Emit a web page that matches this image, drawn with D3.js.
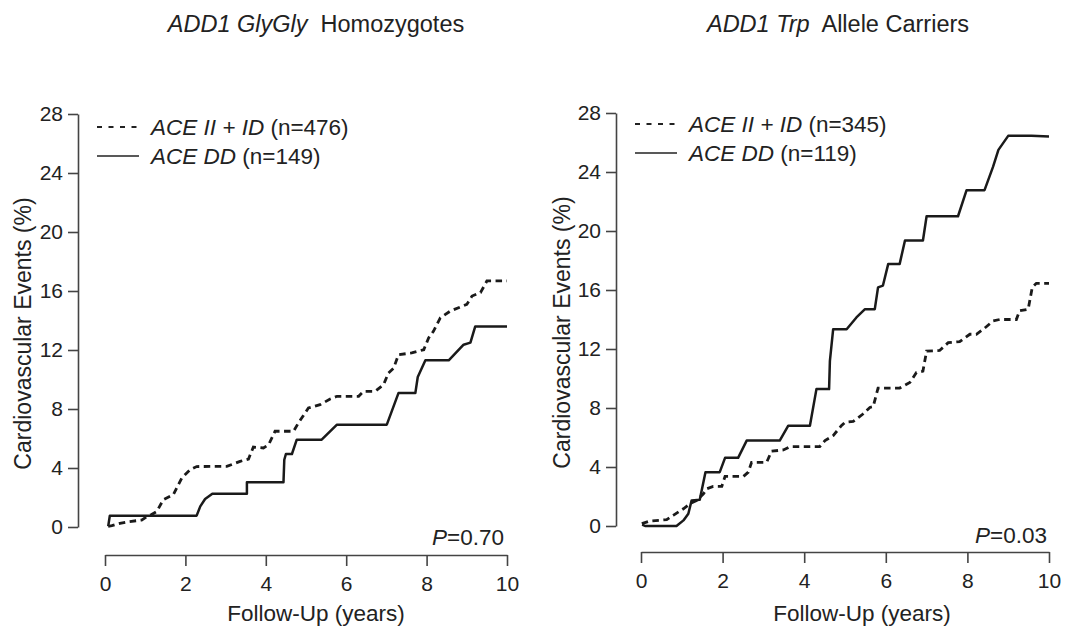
<!DOCTYPE html>
<html>
<head>
<meta charset="utf-8">
<script src="https://cdn.jsdelivr.net/npm/d3@7"></script>
<style>
  body { margin: 0; background: #fff; }
  svg { display: block; }
  text { font-family: "Liberation Sans", Arial, sans-serif; fill: #222; }
</style>
</head>
<body>
<script>
// tick labels
let xTicks = [0, 2, 4, 6, 8, 10];
let yTicks = [0, 4, 8, 12, 16, 20, 24, 28];

// ADD1 GlyGly, ACE II + ID (dashed)
let glyIIID_t = [0.08, 0.17, 0.37, 0.58, 0.91, 1.04, 1.16, 1.29, 1.45, 1.7, 1.91, 1.99, 2.12, 2.28, 3.03, 3.36, 3.57, 3.69, 3.94, 4.07, 4.23, 4.69, 4.81, 5.06, 5.35, 5.6, 5.77, 6.31, 6.43, 6.72, 6.93, 7.05, 7.18, 7.3, 7.63, 7.93, 8.05, 8.17, 8.34, 8.59, 9.0, 9.13, 9.34, 9.5, 10.0];
let glyIIID_v = [0.05, 0.09, 0.25, 0.36, 0.47, 0.7, 0.85, 1.06, 1.85, 2.19, 3.32, 3.55, 3.89, 4.1, 4.11, 4.45, 4.61, 5.42, 5.36, 5.58, 6.49, 6.49, 7.05, 8.07, 8.29, 8.68, 8.86, 8.86, 9.2, 9.2, 9.65, 10.44, 10.77, 11.68, 11.8, 12.02, 12.82, 13.27, 14.18, 14.64, 15.09, 15.66, 15.89, 16.68, 16.68];
// ADD1 GlyGly, ACE DD (solid)
let glyDD_t = [0.08, 0.12, 2.28, 2.37, 2.49, 2.67, 3.53, 3.53, 4.44, 4.46, 4.5, 4.65, 4.77, 5.39, 5.77, 7.01, 7.3, 7.72, 7.78, 7.97, 8.55, 8.92, 9.09, 9.21, 10.0];
let glyDD_v = [0.05, 0.77, 0.77, 1.4, 1.9, 2.26, 2.26, 3.03, 3.03, 4.56, 4.95, 4.95, 5.92, 5.92, 6.94, 6.94, 9.08, 9.08, 10.17, 11.3, 11.3, 12.36, 12.5, 13.6, 13.6];

// ADD1 Trp, ACE II + ID (dashed)
let trpIIID_t = [0.02, 0.22, 0.63, 0.79, 1.04, 1.2, 1.36, 1.53, 1.61, 1.77, 1.98, 2.06, 2.51, 2.63, 2.71, 3.08, 3.2, 3.49, 3.65, 4.38, 4.51, 4.71, 4.91, 5.0, 5.2, 5.44, 5.61, 5.69, 5.81, 6.34, 6.59, 6.75, 6.91, 7.0, 7.32, 7.53, 7.81, 8.06, 8.22, 8.42, 8.63, 8.79, 9.2, 9.28, 9.49, 9.59, 9.69, 10.0];
let trpIIID_v = [0.16, 0.34, 0.43, 0.72, 1.17, 1.51, 1.73, 2.18, 2.52, 2.68, 2.68, 3.36, 3.36, 3.65, 4.32, 4.32, 5.07, 5.16, 5.38, 5.38, 5.79, 6.13, 6.8, 7.03, 7.09, 7.59, 8.04, 8.09, 9.35, 9.35, 9.73, 10.4, 10.5, 11.86, 11.9, 12.43, 12.5, 13.0, 13.0, 13.41, 13.9, 14.0, 14.0, 14.59, 14.7, 16.18, 16.45, 16.45];
// ADD1 Trp, ACE DD (solid)
let trpDD_t = [0.03, 0.1, 0.87, 1.04, 1.16, 1.24, 1.44, 1.58, 1.93, 2.06, 2.38, 2.59, 3.4, 3.61, 4.14, 4.3, 4.61, 4.63, 4.71, 5.04, 5.28, 5.49, 5.73, 5.81, 5.93, 6.06, 6.34, 6.47, 6.91, 7.0, 7.77, 7.98, 8.42, 8.63, 8.76, 9.0, 9.57, 10.0];
let trpDD_v = [0.1, 0.0, 0.0, 0.38, 0.83, 1.73, 1.78, 3.65, 3.65, 4.62, 4.62, 5.79, 5.79, 6.8, 6.8, 9.28, 9.28, 11.2, 13.34, 13.34, 14.14, 14.7, 14.7, 16.18, 16.3, 17.77, 17.77, 19.36, 19.36, 21.0, 21.0, 22.77, 22.77, 24.36, 25.5, 26.45, 26.45, 26.4];

let w = 1072;
let h = 627;
let svg = d3.select("body").append("svg").attr("width", w).attr("height", h);

function zip(ts, vs) {
  return ts.map(function (t, i) { return [t, vs[i]]; });
}

function panel(p) {
  let x = d3.scaleLinear().domain([0, 10]).range([p.x0, p.x1]);
  let y = d3.scaleLinear().domain([0, 28]).range([p.y0, p.y1]);
  let g = svg.append("g");

  // title: italic gene part + plain part
  let title = g.append("text").attr("x", p.titleX).attr("y", 32)
    .attr("text-anchor", "middle").style("font-size", "23.5px");
  title.append("tspan").style("font-style", "italic").text(p.titleIt);
  title.append("tspan").text("\u00a0 " + p.titleRest);

  // y axis
  let ya = g.append("g").attr("transform", "translate(" + p.yAxisX + ",0)")
    .call(d3.axisLeft(y).tickValues(yTicks).tickSize(10).tickSizeOuter(0).tickPadding(5));
  // x axis
  let xa = g.append("g").attr("transform", "translate(0," + p.xAxisY + ")")
    .call(d3.axisBottom(x).tickValues(xTicks).tickSize(11).tickSizeOuter(0).tickPadding(10));
  [ya, xa].forEach(function (a) {
    a.selectAll("path, line").attr("stroke", "#444").attr("stroke-width", 1.6);
    a.selectAll("text").style("font-size", "21px").attr("fill", "#222")
      .style("font-family", '"Liberation Sans", Arial, sans-serif');
  });

  g.append("text")
    .attr("transform", "translate(" + p.yLabX + "," + ((p.y0 + p.y1) / 2 + 13) + ") rotate(-90)")
    .attr("text-anchor", "middle").attr("dy", "0.35em").style("font-size", "23px")
    .text("Cardiovascular Events (%)");
  g.append("text").attr("x", p.xLabX).attr("y", 621).attr("text-anchor", "middle")
    .style("font-size", "22.5px").text("Follow-Up (years)");

  let line = d3.line().x(function (d) { return x(d[0]); }).y(function (d) { return y(d[1]); });
  g.append("path").datum(zip(p.dashT, p.dashV)).attr("d", line)
    .attr("fill", "none").attr("stroke", "#1a1a1a").attr("stroke-width", 2.8)
    .attr("stroke-dasharray", "6.5,4.5");
  g.append("path").datum(zip(p.solidT, p.solidV)).attr("d", line)
    .attr("fill", "none").attr("stroke", "#1a1a1a").attr("stroke-width", 2.5)
    .attr("stroke-linejoin", "round");

  // legend
  let lg = g.append("g");
  lg.append("line").attr("x1", p.legX).attr("x2", p.legX + 43).attr("y1", p.legY).attr("y2", p.legY)
    .attr("stroke", "#222").attr("stroke-width", 2).attr("stroke-dasharray", "5,6.5");
  lg.append("line").attr("x1", p.legX).attr("x2", p.legX + 42).attr("y1", p.legY + 29).attr("y2", p.legY + 29)
    .attr("stroke", "#222").attr("stroke-width", 1.6);
  let t1 = lg.append("text").attr("x", p.legX + 54).attr("y", p.legY + 8).style("font-size", "22.5px");
  t1.append("tspan").style("font-style", "italic").text("ACE II + ID");
  t1.append("tspan").text(" (n=" + p.nA + ")");
  let t2 = lg.append("text").attr("x", p.legX + 54).attr("y", p.legY + 37).style("font-size", "22.5px");
  t2.append("tspan").style("font-style", "italic").text("ACE DD");
  t2.append("tspan").text(" (n=" + p.nB + ")");

  let pt = g.append("text").attr("x", p.pX).attr("y", p.pY).attr("text-anchor", "end")
    .style("font-size", "22.5px");
  pt.append("tspan").style("font-style", "italic").text("P");
  pt.append("tspan").text("=" + p.pVal);
}

panel({
  x0: 105, x1: 507, y0: 527, y1: 114, yAxisX: 78, xAxisY: 555,
  titleX: 316, titleIt: "ADD1 GlyGly", titleRest: "Homozygotes",
  yLabX: 23, xLabX: 316, legX: 97, legY: 127, nA: 476, nB: 149,
  pX: 504, pY: 545, pVal: "0.70",
  dashT: glyIIID_t, dashV: glyIIID_v, solidT: glyDD_t, solidV: glyDD_v
});
panel({
  x0: 641, x1: 1049, y0: 526, y1: 113, yAxisX: 616, xAxisY: 552,
  titleX: 838, titleIt: "ADD1 Trp", titleRest: "Allele Carriers",
  yLabX: 562, xLabX: 862, legX: 635, legY: 124, nA: 345, nB: 119,
  pX: 1047, pY: 543, pVal: "0.03",
  dashT: trpIIID_t, dashV: trpIIID_v, solidT: trpDD_t, solidV: trpDD_v
});
</script>
</body>
</html>
